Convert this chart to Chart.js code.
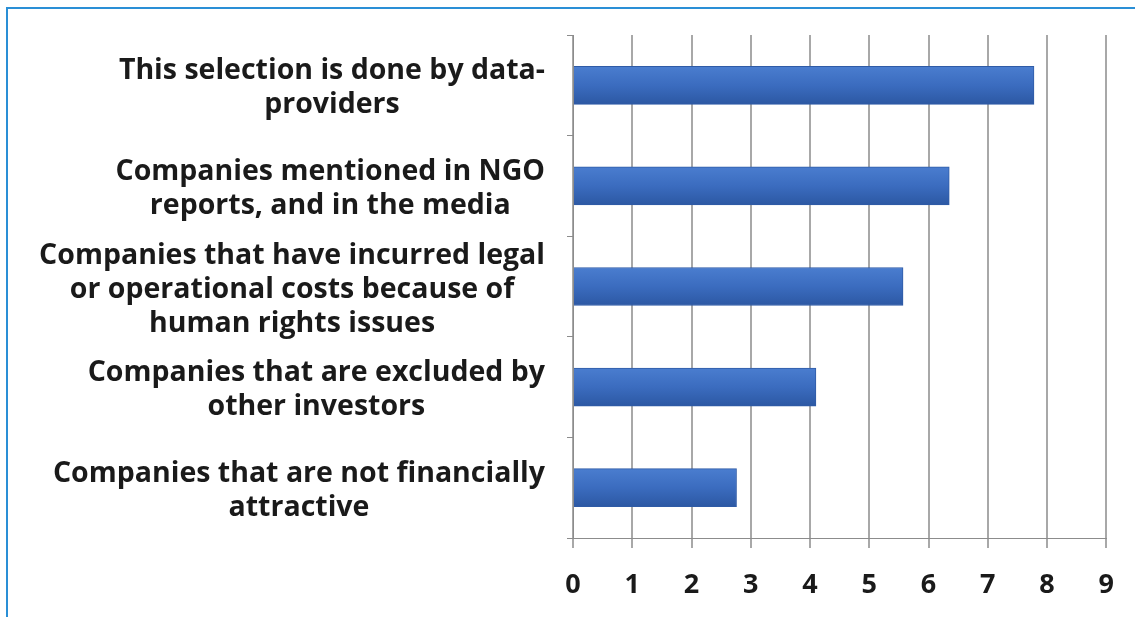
<!DOCTYPE html>
<html>
<head>
<meta charset="utf-8">
<script src="https://cdn.jsdelivr.net/npm/chart.js@4/dist/chart.umd.min.js"></script>
<style>
    html, body { margin: 0; padding: 0; background: #fff; }
    .frame {
        position: absolute; left: 6px; top: 7px; width: 1135px; height: 620px;
        border-left: 2px solid #2a8fd6; border-top: 2px solid #2a8fd6;
    }
    .wrap { position: absolute; left: 0; top: 0; width: 1135px; height: 617px; }
</style>
</head>
<body>
<div class="frame"></div>
<div class="wrap"><canvas id="reasonsChart"></canvas></div>
<script>
const categories = [
    ['This selection is done by data-', 'providers'],
    ['Companies mentioned in NGO', 'reports, and in the media'],
    ['Companies that have incurred legal', 'or operational costs because of', 'human rights issues'],
    ['Companies that are excluded by', 'other investors'],
    ['Companies that are not financially', 'attractive']
];
const values = [7.78, 6.35, 5.57, 4.1, 2.76];
const xTicks = [0, 1, 2, 3, 4, 5, 6, 7, 8, 9];

const BAR_H = 38;
const LABEL_FONT = 'bold 28.5px "Open Sans"';
const LABEL_LINE = 34;
const LABEL_GAP = 28;   // from the axis line to the right edge of the text block

// vertical shading on each bar, like the original
function barFill(context) {
    const chart = context.chart;
    const yScale = chart.scales.y;
    if (!chart.chartArea || !yScale || context.dataIndex === undefined) return '#3b6cbf';
    const mid = yScale.getPixelForValue(context.dataIndex);
    const g = chart.ctx.createLinearGradient(0, mid - BAR_H / 2, 0, mid + BAR_H / 2);
    g.addColorStop(0, '#4a7dcf');
    g.addColorStop(0.5, '#3b6cbf');
    g.addColorStop(1, '#2c58a3');
    return g;
}

// category labels: block right-aligned to the axis, lines centred inside the block
const blockLabels = {
    id: 'blockLabels',
    afterDraw(chart) {
        const yScale = chart.scales.y;
        const c = chart.ctx;
        const right = chart.chartArea.left - LABEL_GAP;
        c.save();
        c.font = LABEL_FONT;
        c.fillStyle = '#1a1a1a';
        c.textAlign = 'center';
        c.textBaseline = 'middle';
        chart.data.labels.forEach((lines, i) => {
            const maxW = Math.max(...lines.map(l => c.measureText(l).width));
            const cx = right - maxW / 2;
            const cy = yScale.getPixelForValue(i) + 3;
            const top = cy - (lines.length - 1) * LABEL_LINE / 2;
            lines.forEach((l, k) => c.fillText(l, cx, top + k * LABEL_LINE));
        });
        c.restore();
    }
};

document.addEventListener('DOMContentLoaded', function() {
    const ctx = document.getElementById('reasonsChart').getContext('2d');
    const reasonsChart = new Chart(ctx, {
        type: 'bar',
        data: {
            labels: categories,
            datasets: [{
                data: values,
                backgroundColor: barFill,
                borderColor: '#2f5ba6',
                borderWidth: 1,
                barThickness: BAR_H
            }]
        },
        options: {
            indexAxis: 'y',
            responsive: true,
            maintainAspectRatio: false,
            animation: false,
            layout: { padding: { top: 35, right: 28, bottom: 0, left: 0 } },
            plugins: {
                legend: { display: false },
                tooltip: { enabled: false }
            },
            scales: {
                x: {
                    min: 0,
                    max: 9,
                    afterBuildTicks: function(axis) {
                        axis.ticks = xTicks.map(v => ({ value: v }));
                    },
                    afterFit: function(axis) { axis.height = 79; },
                    grid: { color: '#a8a8a8', lineWidth: 2, tickLength: 10 },
                    border: { color: '#8c8c8c', width: 1 },
                    ticks: {
                        color: '#1a1a1a',
                        padding: 21,
                        font: { family: 'Open Sans', size: 27, weight: 'bold' }
                    }
                },
                y: {
                    afterFit: function(axis) { axis.width = 573; },
                    grid: { drawOnChartArea: false, color: '#8c8c8c', tickLength: 6 },
                    border: { color: '#8c8c8c', width: 1 },
                    ticks: { display: false }
                }
            }
        },
        plugins: [blockLabels]
    });
});
</script>
</body>
</html>
